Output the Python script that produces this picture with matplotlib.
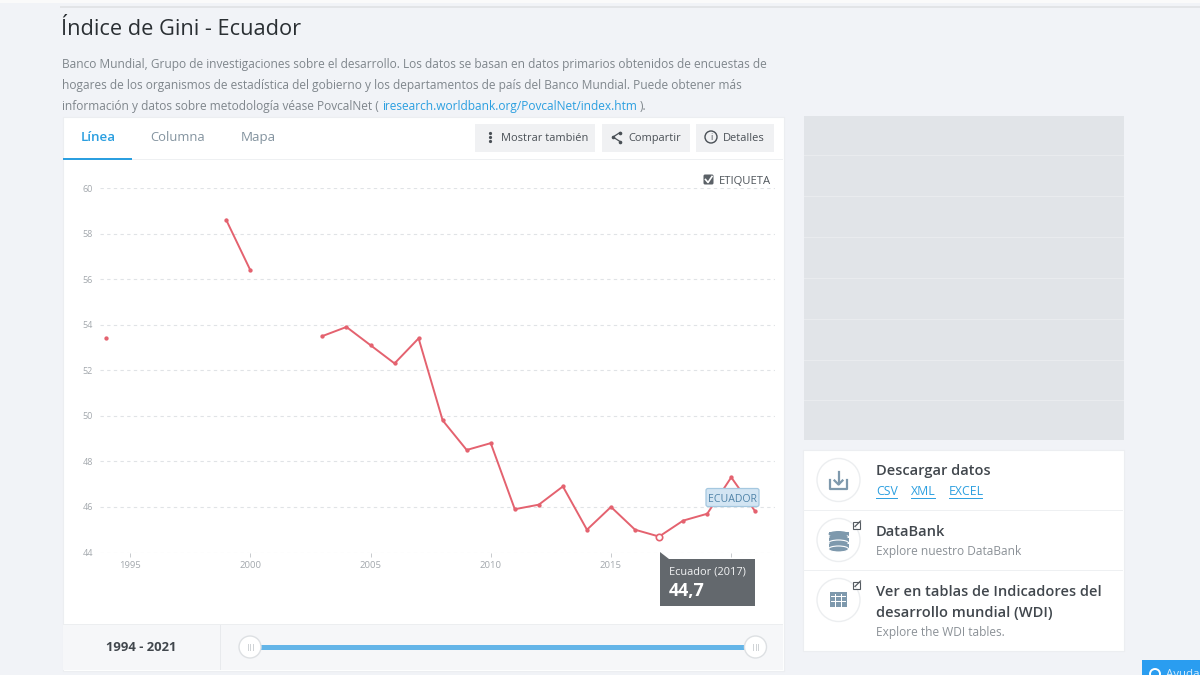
"""Gini index page for Ecuador, World Bank data site layout."""
import numpy as np
import matplotlib
matplotlib.use("Agg")
import matplotlib.pyplot as plt
from matplotlib.patches import Rectangle, Circle, Ellipse, FancyBboxPatch, Polygon

plt.rcParams["font.family"] = ["Open Sans", "DejaVu Sans"]

W, H = 1200, 675
BG, WHITE, DARK, GREY = "#f1f3f7", "#ffffff", "#41474d", "#7f868c"
BLUE, RED, ICON = "#2b9fe0", "#e4626f", "#7e99ad"

# NaN marks the years with no survey, which break the line
years = [1994, 1995, 1996, 1997, 1998, 1999, 2000, 2001, 2002, 2003, 2004,
         2005, 2006, 2007, 2008, 2009, 2010, 2011, 2012, 2013, 2014, 2015,
         2016, 2017, 2018, 2019, 2020, 2021]
gini = [53.4, np.nan, np.nan, np.nan, np.nan, 58.6, 56.4, np.nan, np.nan, 53.5, 53.9,
        53.1, 52.3, 53.4, 49.8, 48.5, 48.8, 45.9, 46.1, 46.9, 45.0, 46.0,
        45.0, 44.7, 45.4, 45.7, 47.3, 45.8]
y_ticks = [44, 46, 48, 50, 52, 54, 56, 58, 60]
x_ticks = [1995, 2000, 2005, 2010, 2015, 2020]
# the 2020 label sits behind the tooltip in the page
x_tick_labels = ["1995", "2000", "2005", "2010", "2015", ""]
hover_year, hover_value = 2017, 44.7

intro_lines = [
    "Banco Mundial, Grupo de investigaciones sobre el desarrollo. Los datos se basan en datos primarios obtenidos de encuestas de",
    "hogares de los organismos de estadística del gobierno y los departamentos de país del Banco Mundial. Puede obtener más",
    "información y datos sobre metodología véase PovcalNet ( ",
]


def px(size):
    return size * 0.72


fig = plt.figure(figsize=(12, 6.75), dpi=100, facecolor=BG)


def page_axes(z):
    a = fig.add_axes([0, 0, 1, 1], zorder=z)
    a.set_xlim(0, W); a.set_ylim(H, 0); a.axis("off")
    return a


bg = page_axes(0)
fg = page_axes(2)


def box(a, x0, y0, x1, y1, fc=WHITE, ec="none", lw=0.8, z=1):
    a.add_patch(Rectangle((x0, y0), x1 - x0, y1 - y0, fc=fc, ec=ec, lw=lw, zorder=z))


def label(a, x, y, s, size, color=DARK, ha="left", weight="normal", z=5):
    return a.text(x, y, s, fontsize=px(size), color=color, ha=ha, va="center_baseline",
                  fontweight=weight, zorder=z)


# top of the browser window
box(bg, 0, 0, W, 3, fc="#fafafa")
box(bg, 60, 6, W, 7.5, fc="#e2e4e7")

# heading and intro
label(bg, 61, 27, "Índice de Gini - Ecuador", 21.8, color="#2a2f33")
for y, line in zip([63, 84, 105], intro_lines):
    label(bg, 62, y, line, 11.95, color=GREY)
label(bg, 382, 105, "iresearch.worldbank.org/PovcalNet/index.htm", 11.95, color=BLUE)
label(bg, 640, 105, ").", 11.95, color=GREY)

# chart card
box(bg, 62.5, 116.5, 783.5, 670.5, ec="#eceef1")
box(bg, 63, 159, 783, 160, fc="#eef0f2")
box(bg, 63, 157.5, 132, 159.5, fc=BLUE, z=2)
label(bg, 98, 136, "Línea", 13.4, color=BLUE, ha="center", weight="semibold")
label(bg, 178, 136, "Columna", 13, color="#83939f", ha="center")
label(bg, 258, 136, "Mapa", 13.4, color="#83939f", ha="center")
for x0, x1 in [(475, 595), (602, 690), (696, 774)]:
    box(bg, x0, 124, x1, 152, fc="#f0f1f3")
label(bg, 501, 137, "Mostrar también", 11, color="#4a5056")
label(bg, 628, 137, "Compartir", 11, color="#4a5056")
label(bg, 723, 137, "Detalles", 11, color="#4a5056")
bg.plot([490, 490, 490], [133, 137, 141], ls="none", marker="o", ms=1.3, color="#4a5056", zorder=3)
bg.plot([620, 613, 620], [132.5, 137, 141.5], color="#4a5056", lw=0.9, zorder=3)
bg.plot([620, 613, 620], [132.5, 137, 141.5], ls="none", marker="o", ms=1.6, color="#4a5056", zorder=3)
bg.add_patch(Circle((711, 137), 6, fc="none", ec="#4a5056", lw=1, zorder=3))
label(bg, 711, 137, "i", 9, color="#4a5056", ha="center")

# ETIQUETA checkbox
bg.add_patch(FancyBboxPatch((703.5, 174.5), 10, 10, boxstyle="round,pad=0,rounding_size=1.5",
                            fc="#5b6167", ec="none", zorder=3))
bg.plot([705.5, 708, 712], [179.5, 182.5, 176.5], color=WHITE, lw=1.2, zorder=4)
label(bg, 719, 180, "ETIQUETA", 11.2, color="#4f555b")

# line chart, axes placed so the data scales land on the page grid
left, right, top, bottom = 100, 775, 188, 552.5
ax = fig.add_axes([left / W, 1 - bottom / H, (right - left) / W, (bottom - top) / H], zorder=1)
ax.patch.set_alpha(0)
ax.set_xlim(1995 + (left - 130) / 24.05, 1995 + (right - 130) / 24.05)
ax.set_ylim(44, 60)
for side in ax.spines.values():
    side.set_visible(False)
ax.set_yticks(y_ticks)
ax.set_xticks(x_ticks, x_tick_labels)
ax.tick_params(axis="y", length=0, pad=5, labelsize=px(9), labelcolor="#a3a8ad")
ax.tick_params(axis="x", length=3, width=0.7, color="#c8cbce", pad=3, labelsize=px(9.5), labelcolor="#a3a8ad")
ax.grid(axis="y", color="#e0e3e6", lw=0.8, ls=(0, (3, 3)))
ax.set_axisbelow(True)
ax.plot(years, gini, color=RED, lw=1.4, clip_on=False, zorder=3)
ax.plot(years, gini, ls="none", marker="o", ms=2.1, color=RED, clip_on=False, zorder=4)
ax.plot([hover_year], [hover_value], ls="none", marker="o", ms=4.6, mfc=WHITE, mec=RED, mew=1.2,
        clip_on=False, zorder=5)

# series tag
fg.add_patch(FancyBboxPatch((706, 488.5), 53, 18, boxstyle="round,pad=0,rounding_size=2",
                            fc="#d3e5f3", ec="#a5c8e0", lw=0.9, zorder=3))
label(fg, 732.5, 498, "ECUADOR", 10.5, color="#4f83a8", ha="center")

# tooltip
fg.add_patch(Polygon([(660, 552), (660, 606), (755, 606), (755, 559), (669, 559)],
                     fc="#63686d", ec="none", zorder=3))
label(fg, 669, 570, f"Ecuador ({hover_year})", 11, color="#f2f3f4")
label(fg, 669, 589, f"{hover_value}".replace(".", ","), 18, color=WHITE, weight="bold")

# range slider strip
box(bg, 63, 625, 783, 670, fc="#f6f7f9", z=2)
box(bg, 63, 624, 783, 625, fc="#eceef0", z=2)
box(bg, 220, 625, 221, 670, fc="#e8eaed", z=2)
label(bg, 141, 646, "1994 - 2021", 13, color=DARK, ha="center", weight="bold")
box(bg, 250, 645, 756, 649.5, fc="#64b5e8", z=2)
for x in [250, 755.5]:
    bg.add_patch(Circle((x, 647), 11, fc=WHITE, ec="#dde0e3", lw=1, zorder=3))
    bg.plot([x - 2.5, x - 2.5], [644, 650], color="#cfd3d6", lw=0.7, zorder=4)
    bg.plot([x, x], [644, 650], color="#cfd3d6", lw=0.7, zorder=4)
    bg.plot([x + 2.5, x + 2.5], [644, 650], color="#cfd3d6", lw=0.7, zorder=4)

# placeholder block on the right
box(bg, 804, 116, 1124, 440, fc="#e1e4e8")
for y in [155, 196, 237, 278, 319, 360, 400]:
    box(bg, 804, y, 1124, y + 1, fc="#e9ebee", z=2)

# links card
box(bg, 803, 450, 1123.5, 650.5, ec="#eceef1")
box(bg, 803, 510, 1123, 511, fc="#eef0f2")
box(bg, 803, 570, 1123, 571, fc="#eef0f2")
for cy in [480, 540, 600]:
    bg.add_patch(Circle((838.5, cy), 21.5, fc=WHITE, ec="#eceef0", lw=1, zorder=2))

label(bg, 876, 470, "Descargar datos", 14.6, weight="semibold")
label(bg, 876, 490, "CSV", 12.3, color=BLUE)
label(bg, 911, 490, "XML", 12.3, color=BLUE)
label(bg, 949, 490, "EXCEL", 12.3, color=BLUE)
for x0, x1 in [(876, 897), (911, 935), (949, 982)]:
    bg.plot([x0, x1], [497.5, 497.5], color=BLUE, lw=0.7, zorder=3)
label(bg, 876, 530, "DataBank", 14.6, weight="semibold")
label(bg, 876, 550, "Explore nuestro DataBank", 11.9, color="#8b9197")
label(bg, 876, 590, "Ver en tablas de Indicadores del", 14.6, weight="semibold")
label(bg, 876, 611, "desarrollo mundial (WDI)", 14.6, weight="semibold")
label(bg, 876, 631, "Explore the WDI tables.", 11.9, color="#8b9197")

# download icon
bg.plot([830, 830, 847, 847], [480, 489, 489, 480], color=ICON, lw=1.6, zorder=3)
bg.plot([838.5, 838.5], [472, 484], color=ICON, lw=1.6, zorder=3)
bg.plot([834.5, 838.5, 842.5], [480.5, 484.5, 480.5], color=ICON, lw=1.6, zorder=3)

# database icon
for cy in [534, 540, 546]:
    bg.add_patch(Rectangle((828.5, cy - 2), 20, 5, fc=ICON, ec="none", zorder=3))
    bg.add_patch(Ellipse((838.5, cy + 3), 20, 6, fc=ICON, ec=WHITE, lw=0.8, zorder=3))
bg.add_patch(Ellipse((838.5, 534), 20, 6, fc=ICON, ec="none", zorder=4))

# table icon
box(bg, 830, 592, 847, 607, fc=ICON, z=3)
for x in [835, 841]:
    box(bg, x, 594, x + 1, 607, fc=WHITE, z=4)
for y in [596, 601]:
    box(bg, 831, y, 846, y + 1, fc=WHITE, z=4)

# external link marks
for cy in [526, 586]:
    box(bg, 852.5, cy - 4, 859.5, cy + 3, fc="none", ec="#555b61", lw=0.8, z=3)
    bg.plot([855, 860.5], [cy + 0.5, cy - 5], color="#555b61", lw=0.9, zorder=4)

# help button, cut by the page edge
box(fg, 1142, 660, W, H, fc="#2a9df0")
fg.add_patch(Circle((1155, 674), 5, fc="none", ec=WHITE, lw=1.4, zorder=3))
label(fg, 1166, 673, "Ayuda", 11.5, color="#d9eefc")

fig.savefig("out.png", dpi=100, facecolor=BG)
